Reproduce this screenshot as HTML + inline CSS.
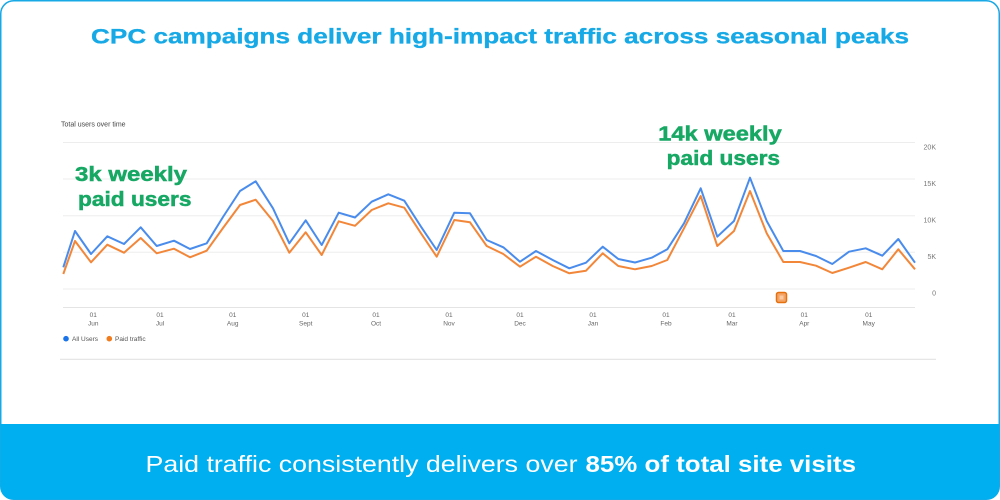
<!DOCTYPE html>
<html>
<head>
<meta charset="utf-8">
<style>
  html,body{margin:0;padding:0;background:#fff;}
  svg{display:block;}
  text{font-family:"Liberation Sans",sans-serif;}
</style>
</head>
<body>
<svg width="1000" height="500" viewBox="0 0 1000 500" xmlns="http://www.w3.org/2000/svg">
  <!-- card -->
  <rect x="0.75" y="0.75" width="998.5" height="498.5" rx="13" ry="13" fill="#ffffff" stroke="#17A8E6" stroke-width="1.5"/>
  <!-- banner -->
  <path d="M0.75,424 H999.25 V486 Q999.25,499.25 986,499.25 H14 Q0.75,499.25 0.75,486 Z" fill="#00AFEF"/>

  <!-- title -->
  <text x="91" y="43.5" font-size="21" font-weight="bold" fill="#16A9E6" stroke="#16A9E6" stroke-width="0.3" textLength="818" lengthAdjust="spacingAndGlyphs">CPC campaigns deliver high-impact traffic across seasonal peaks</text>

  <!-- banner text -->
  <text x="145.5" y="472" font-size="23" fill="#ffffff" textLength="432" lengthAdjust="spacingAndGlyphs">Paid traffic consistently delivers over</text>
  <text x="585.5" y="472" font-size="23" font-weight="bold" fill="#ffffff" textLength="270.5" lengthAdjust="spacingAndGlyphs">85% of total site visits</text>

  <!-- chart title -->
  <text x="61" y="126.5" font-size="7" fill="#444">Total users over time</text>

  <!-- gridlines -->
  <g stroke="#EDEDED" stroke-width="1">
    <line x1="63" y1="142.5" x2="915" y2="142.5"/>
    <line x1="63" y1="179" x2="915" y2="179"/>
    <line x1="63" y1="215.7" x2="915" y2="215.7"/>
    <line x1="63" y1="252.3" x2="915" y2="252.3"/>
    <line x1="63" y1="289" x2="915" y2="289"/>
  </g>
  <line x1="63" y1="307.5" x2="915" y2="307.5" stroke="#E4E4E4" stroke-width="1"/>
  <line x1="60" y1="359.3" x2="936" y2="359.3" stroke="#E2E2E2" stroke-width="1.2"/>

  <!-- y labels -->
  <g font-size="7" fill="#777" text-anchor="end">
    <text x="936" y="149.5">20K</text>
    <text x="936" y="186">15K</text>
    <text x="936" y="222.5">10K</text>
    <text x="936" y="259">5K</text>
    <text x="936" y="295.5">0</text>
  </g>

  <!-- x labels -->
  <g font-size="6.5" fill="#666" text-anchor="middle">
    <text x="93.3" y="317">01</text><text x="93.3" y="325.5">Jun</text>
    <text x="160" y="317">01</text><text x="160" y="325.5">Jul</text>
    <text x="232.7" y="317">01</text><text x="232.7" y="325.5">Aug</text>
    <text x="305.7" y="317">01</text><text x="305.7" y="325.5">Sept</text>
    <text x="376" y="317">01</text><text x="376" y="325.5">Oct</text>
    <text x="449" y="317">01</text><text x="449" y="325.5">Nov</text>
    <text x="520" y="317">01</text><text x="520" y="325.5">Dec</text>
    <text x="593" y="317">01</text><text x="593" y="325.5">Jan</text>
    <text x="666" y="317">01</text><text x="666" y="325.5">Feb</text>
    <text x="732" y="317">01</text><text x="732" y="325.5">Mar</text>
    <text x="804.3" y="317">01</text><text x="804.3" y="325.5">Apr</text>
    <text x="868.7" y="317">01</text><text x="868.7" y="325.5">May</text>
  </g>

  <!-- legend -->
  <circle cx="66" cy="338.7" r="2.8" fill="#1A73E8"/>
  <text x="72" y="341" font-size="6.5" fill="#555">All Users</text>
  <circle cx="109.3" cy="338.7" r="2.8" fill="#F07C1E"/>
  <text x="115" y="341" font-size="6.5" fill="#555">Paid traffic</text>

  <!-- series -->
  <polyline fill="none" stroke="#F2873A" stroke-width="2" stroke-linejoin="round" points="63.3,274 75,241 91,262.3 107.3,244.7 124,252.7 140.7,238 156.7,253.3 174,248.7 190,257.3 206.7,250.7 223,228 240,205 255.7,199.7 273,221 289.3,252.7 305.7,232.3 321.7,255 338.7,221.3 355,225.8 371.7,210 388.3,203.3 404.3,207.7 421,233.3 436.7,256.7 454.3,220 470,222.3 486.7,246 503.3,254 520,266.7 536,256.7 552.7,266 569.3,273.3 586,270.7 602.7,253.3 618.3,266 635,269.3 651.7,266 667.3,260 684,228.3 700.7,196 717.3,246 734,231 750,191 766.7,233.3 783.3,262 800,262 816,265.7 832.3,273 849,267.7 865.7,262 882.3,269.3 898.3,249.3 915,269.3"/>
  <polyline fill="none" stroke="#4A8CEC" stroke-width="2" stroke-linejoin="round" points="63.3,267.3 75,231 91,254 107.3,236.3 124,244 140.7,227.3 156.7,246 174,240.7 190,249 206.7,243.3 223,217 240,191 255.7,181.3 273,208.3 289.3,243.3 305.7,220.3 321.7,245 338.7,212.7 355,217.5 371.7,201.7 388.3,194.3 404.3,200.7 421,226.7 436.7,250 454.3,212.7 470,213.3 486.7,240 503.3,247.3 520,261.7 536,251 552.7,260 569.3,268.3 586,262.7 602.7,246.7 618.3,259 635,262.5 651.7,257.7 667.3,249.3 684,223.3 700.7,188.3 717.3,236.7 734,221 750,177.7 766.7,221 783.3,251 800,251 816,256 832.3,264 849,251.7 865.7,248.3 882.3,255.7 898.3,239 915,262.7"/>

  <!-- marker -->
  <rect x="776.5" y="292.5" width="10" height="10" rx="2" fill="#F4A466" stroke="#E5700E" stroke-width="1.5"/>
  <rect x="779.5" y="295.5" width="4" height="4" fill="#F9C9A0"/>

  <!-- annotations -->
  <g font-size="20" font-weight="bold" fill="#17A864" stroke="#17A864" stroke-width="0.5">
    <text x="75" y="181" textLength="112" lengthAdjust="spacingAndGlyphs">3k weekly</text>
    <text x="78" y="206" textLength="113.5" lengthAdjust="spacingAndGlyphs">paid users</text>
    <text x="658.3" y="140.5" textLength="123.4" lengthAdjust="spacingAndGlyphs">14k weekly</text>
    <text x="666.7" y="165" textLength="113.3" lengthAdjust="spacingAndGlyphs">paid users</text>
  </g>
</svg>
</body>
</html>
